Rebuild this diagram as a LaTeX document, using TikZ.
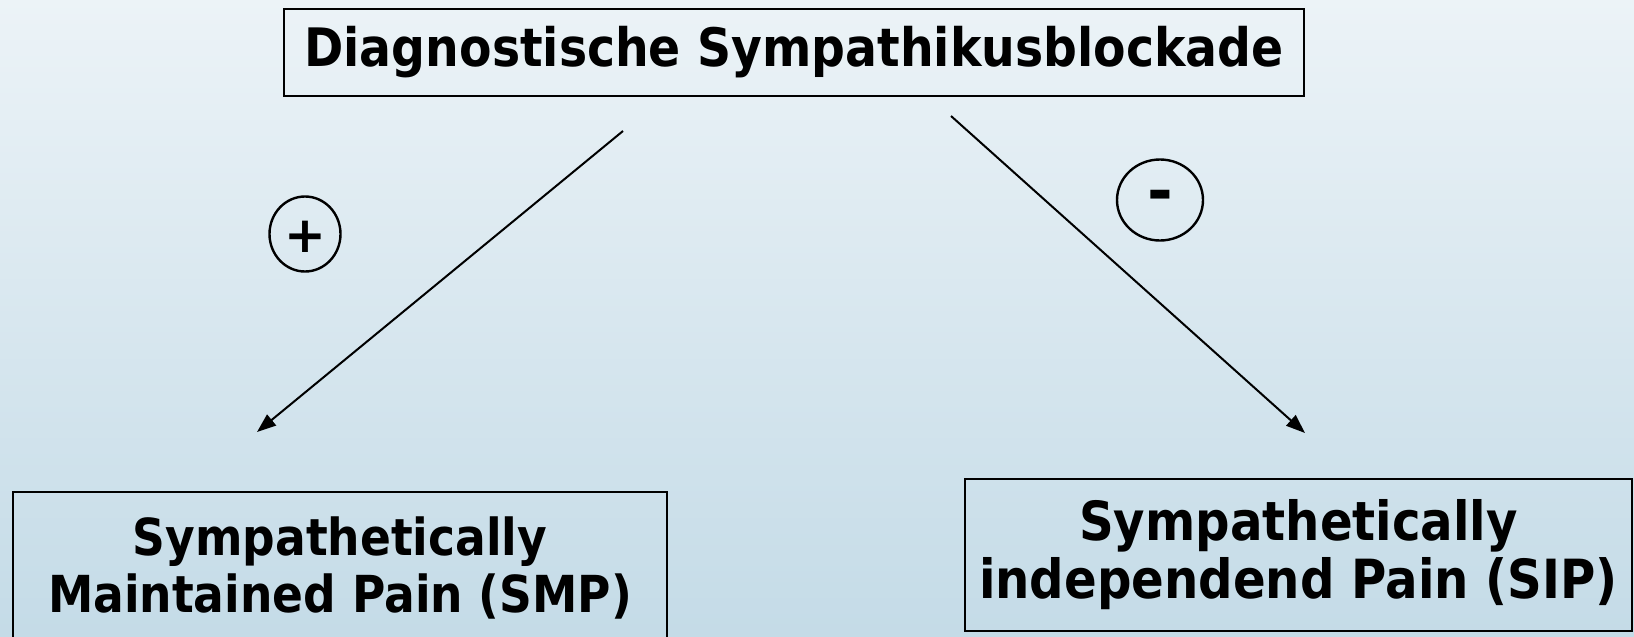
\documentclass[tikz,border=0pt]{standalone}
\usepackage{fontspec}
\setmainfont{DejaVu Sans}[FakeStretch=0.893]
\newfontfamily\symfont{DejaVu Sans}
\usetikzlibrary{arrows.meta,shapes.geometric}
\definecolor{bgtop}{RGB}{236,243,247}
\definecolor{bgbot}{RGB}{196,219,231}
\tikzset{
  boxnode/.style={draw=black, line width=2pt, rectangle, inner sep=0pt, align=center},
  toptext/.style={font=\fontsize{53}{57}\selectfont\bfseries},
  bottext/.style={font=\fontsize{51}{57}\selectfont\bfseries},
  bottextr/.style={font=\fontsize{54}{58}\selectfont\bfseries},
  signcirc/.style={draw=black, line width=2.4pt, ellipse, inner sep=0pt, text depth=0pt},
  conn/.style={draw=black, line width=2pt, -{Triangle[length=19pt,width=14pt]}}
}
\begin{document}
\begin{tikzpicture}[x=1pt,y=-1pt]
\useasboundingbox (0,0) rectangle (1634,637);
\shade[top color=bgtop, bottom color=bgbot] (0,0) rectangle (1634,637);
\begin{scope}
\clip (0,0) rectangle (1634,637);
\node[boxnode, toptext, minimum width=1020pt, minimum height=87pt] (top) at (794,52.5) {Diagnostische Sympathikusblockade};
\node[boxnode, bottext, minimum width=654.5pt, minimum height=152pt] (smp) at (340,568) {Sympathetically\\Maintained Pain (SMP)};
\node[boxnode, bottextr, minimum width=667pt, minimum height=152pt] (sip) at (1298.5,555) {Sympathetically\\independend Pain (SIP)};
\end{scope}
\node[signcirc, minimum width=71pt, minimum height=75pt, font=\symfont\fontsize{50}{60}\selectfont\bfseries, text height=37pt] (plus) at (305,234) {+};
\node[signcirc, minimum width=86pt, minimum height=81pt, font=\symfont\fontsize{62}{64}\selectfont\bfseries, text height=24pt] (minus) at (1160,200) {-};
\coordinate (lstart) at (623,131);
\coordinate (lend) at (257,432);
\coordinate (rstart) at (951,116);
\coordinate (rend) at (1305,433);
\draw[conn] (lstart) -- (lend);
\draw[conn] (rstart) -- (rend);
\end{tikzpicture}
\end{document}
